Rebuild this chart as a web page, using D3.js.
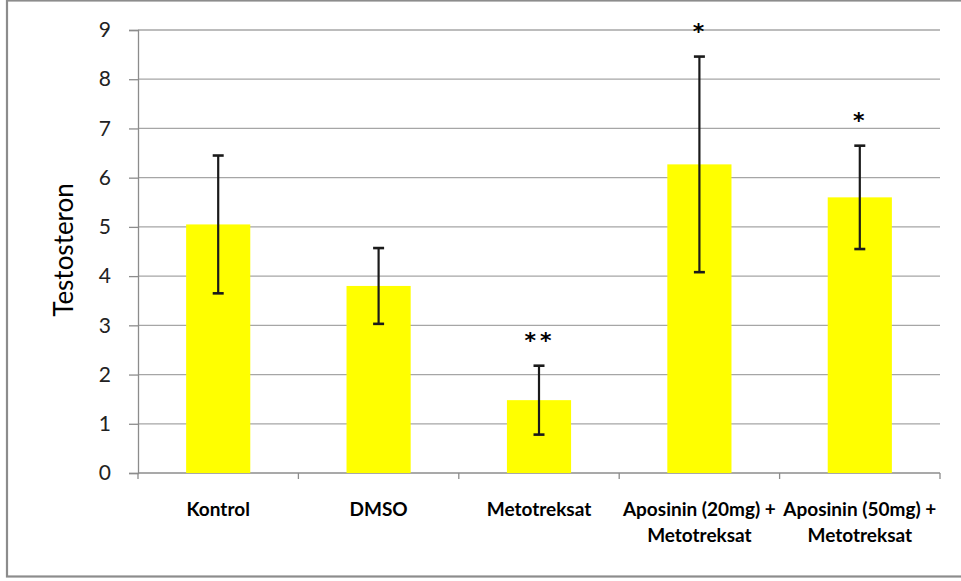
<!DOCTYPE html>
<html>
<head>
<meta charset="utf-8">
<script src="https://cdn.jsdelivr.net/npm/d3@7/dist/d3.min.js"></script>
<style>
  html, body { margin: 0; padding: 0; background: #fff; }
  svg { display: block; }
  text { font-family: Lato, "Open Sans", sans-serif; fill: #000; }
</style>
</head>
<body>
<svg id="chart" width="961" height="581"></svg>
<script>
// Groups (x-axis labels, one array entry per line)
const categories = ["Kontrol", "DMSO", "Metotreksat", "Aposinin (20mg) +|Metotreksat", "Aposinin (50mg) +|Metotreksat"];
// Mean testosterone per group
const means = [5.05, 3.80, 1.48, 6.27, 5.60];
// Error bar half-length per group
const errors = [1.40, 0.77, 0.70, 2.19, 1.05];
// Significance markers
const marks = ["", "", "**", "*", "*"];
// Y-axis ticks
const yTicks = [0, 1, 2, 3, 4, 5, 6, 7, 8, 9];

const svg = d3.select("#chart");
const plot = { left: 138, right: 940, top: 30, bottom: 473 };

// Outer frame
svg.append("rect")
  .attr("x", 7).attr("y", 0.5).attr("width", 960).attr("height", 576)
  .attr("fill", "none").attr("stroke", "#8c8c8c").attr("stroke-width", 2.2);

const x = d3.scaleBand().domain(categories).range([plot.left, plot.right]).padding(0);
const y = d3.scaleLinear().domain([0, 9]).range([plot.bottom, plot.top]);

// Horizontal gridlines
svg.append("g")
  .selectAll("line").data(yTicks.filter(d => d > 0)).join("line")
  .attr("x1", plot.left).attr("x2", plot.right)
  .attr("y1", d => y(d)).attr("y2", d => y(d))
  .attr("stroke", "#a6a6a6").attr("stroke-width", 1.3);

// Y axis
const yAxis = d3.axisLeft(y).tickValues(yTicks).tickSize(9).tickPadding(18).tickFormat(d3.format("d"));
const gy = svg.append("g").attr("transform", `translate(${plot.left},0)`).call(yAxis);
gy.select(".domain").attr("stroke", "#8c8c8c").attr("stroke-width", 1.3);
gy.selectAll(".tick line").attr("stroke", "#8c8c8c").attr("stroke-width", 1.3);
gy.selectAll(".tick text").attr("font-size", 21).style("fill", "#222");

// X axis baseline with ticks between categories
svg.append("line")
  .attr("x1", plot.left).attr("x2", plot.right)
  .attr("y1", plot.bottom).attr("y2", plot.bottom)
  .attr("stroke", "#8c8c8c").attr("stroke-width", 1.3);
const boundaries = categories.map(c => x(c)).concat([x(categories[categories.length - 1]) + x.bandwidth()]);
svg.append("g").selectAll("line").data(boundaries).join("line")
  .attr("x1", d => d).attr("x2", d => d)
  .attr("y1", plot.bottom).attr("y2", plot.bottom + 6)
  .attr("stroke", "#8c8c8c").attr("stroke-width", 1.3);

// Bars
const barW = x.bandwidth() * 0.4;
const cx = i => x(categories[i]) + x.bandwidth() / 2;
svg.append("g").selectAll("rect").data(means).join("rect")
  .attr("x", (d, i) => cx(i) - barW / 2)
  .attr("y", d => y(d))
  .attr("width", barW)
  .attr("height", d => y(0) - y(d))
  .attr("fill", "#ffff00");

// Error bars
const eb = svg.append("g").attr("stroke", "#1a1a1a").attr("stroke-width", 2.2);
means.forEach((m, i) => {
  const lo = y(m - errors[i]), hi = y(m + errors[i]), c = cx(i);
  eb.append("line").attr("x1", c).attr("x2", c).attr("y1", lo).attr("y2", hi);
  eb.append("line").attr("x1", c - 5.5).attr("x2", c + 5.5).attr("y1", lo).attr("y2", lo).attr("stroke-width", 2.6);
  eb.append("line").attr("x1", c - 5.5).attr("x2", c + 5.5).attr("y1", hi).attr("y2", hi).attr("stroke-width", 2.6);
});

// Significance markers above the error bars
svg.append("g").selectAll("text").data(marks).join("text")
  .attr("x", (d, i) => cx(i) + 1)
  .attr("y", (d, i) => y(means[i] + errors[i]) - 18)
  .attr("text-anchor", "middle")
  .style("font-family", "'DejaVu Sans', sans-serif")
  .attr("font-size", 22)
  .attr("font-weight", "bold")
  .attr("letter-spacing", 4)
  .text(d => d);

// Category labels
const lbl = svg.append("g");
categories.forEach((c, i) => {
  const t = lbl.append("text")
    .attr("x", cx(i))
    .attr("y", 516)
    .attr("text-anchor", "middle")
    .attr("font-size", 19)
    .attr("font-weight", "bold");
  c.split("|").forEach((line, k) => {
    t.append("tspan").attr("x", cx(i)).attr("dy", k === 0 ? 0 : 26).text(line);
  });
});

// Y-axis title
svg.append("text")
  .attr("transform", `translate(73,250) rotate(-90)`)
  .attr("text-anchor", "middle")
  .attr("font-size", 26)
  .text("Testosteron");
</script>
</body>
</html>
